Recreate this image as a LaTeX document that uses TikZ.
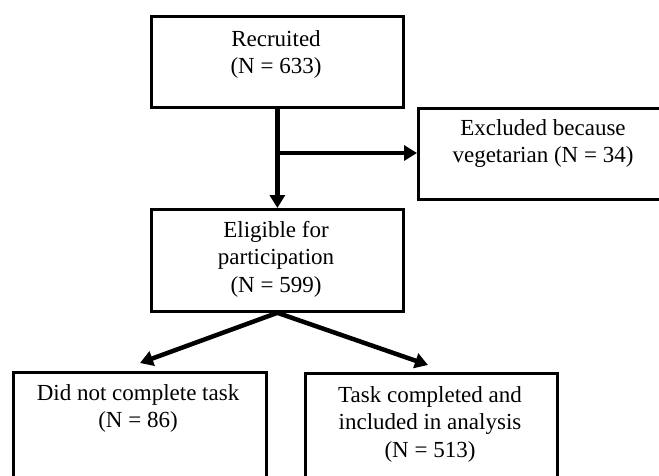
\documentclass[tikz,border=0pt]{standalone}
\usepackage{fontspec}
\setmainfont{Liberation Serif}
\usetikzlibrary{arrows.meta,calc}
\newcommand{\mylines}[1]{\begin{tabular}[t]{@{}c@{}}#1\end{tabular}}
\begin{document}
\begin{tikzpicture}[x=1pt,y=-1pt,
  box/.style={draw, line width=2.8pt, rectangle, inner sep=0pt, anchor=north west},
  txt/.style={font=\fontsize{23}{27.5}\selectfont, inner sep=0pt, anchor=base},
  arr/.style={line width=4.5pt, -{Triangle[length=13pt,width=15pt]}}]
\clip (0,0) rectangle (659,475);
\fill[white] (0,0) rectangle (659,475);
% boxes
\node[box, minimum width=252pt, minimum height=91pt] (rec) at (150,15) {};
\node[box, minimum width=252pt, minimum height=91pt] (excl) at (417,107) {};
\node[box, minimum width=252pt, minimum height=102pt] (elig) at (150,208) {};
\node[box, minimum width=253pt, minimum height=115pt] (dnc) at (12,371) {};
\node[box, minimum width=252pt, minimum height=115pt] (tc) at (304,372) {};
% texts
\node[txt] (rect) at (276,46) {\mylines{Recruited\\(N = 633)}};
\node[txt] (exclt) at (543,135) {\mylines{Excluded because\\vegetarian (N = 34)}};
\node[txt] (eligt) at (276,237) {\mylines{Eligible for\\participation\\(N = 599)}};
\node[txt] (dnct) at (138,400) {\mylines{Did not complete task\\(N = 86)}};
\node[txt] (tct) at (430,402) {\mylines{Task completed and\\included in analysis\\(N = 513)}};
% connectors
\coordinate (br) at (276,153);
\coordinate (t1) at (140,363);
\coordinate (t2) at (428,365);
\draw[arr] (rec.south) -- (elig.north);
\draw[arr] (br) -- (excl.west |- br);
\draw[arr] (elig.south) -- (t1);
\draw[arr] (elig.south) -- (t2);
\end{tikzpicture}
\end{document}
